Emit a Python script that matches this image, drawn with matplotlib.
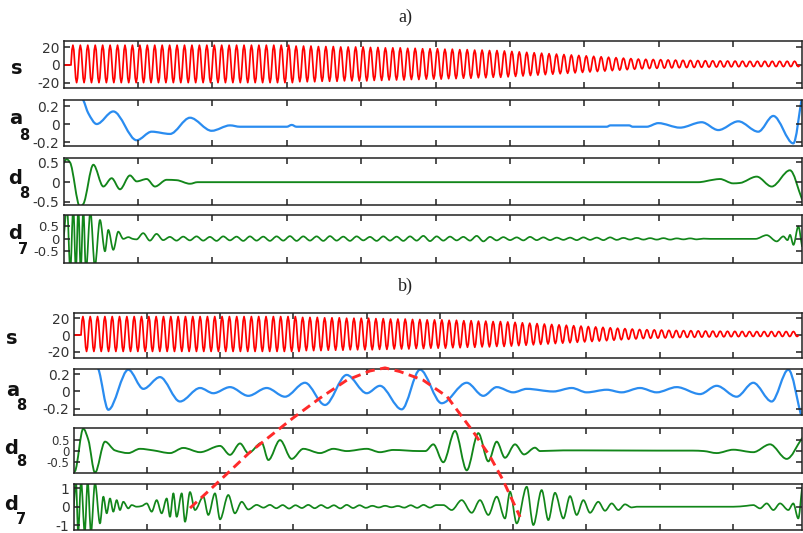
import numpy as np
import matplotlib
matplotlib.use("Agg")
import matplotlib.pyplot as plt
from matplotlib.path import Path
from matplotlib.patches import PathPatch

plt.rcParams["axes.unicode_minus"] = False
plt.rcParams["font.family"] = ["DejaVu Sans"]

# ---------------------------------------------------------------- data
# test signal s: amplitude of each cycle (10 cycles per time unit, starting at t=0.1)
s_amp = [21, 21, 21, 21, 21, 21, 21, 21, 21, 21,
         21, 21, 21, 21, 21, 21, 21, 21, 21, 21,
         21, 21, 21, 21, 21, 21, 21, 21, 21, 21,
         20, 20, 20, 19.5, 19.5, 19.5, 19, 19, 19, 19,
         18.5, 18.5, 18, 18, 18, 17.5, 17.5, 17, 17, 17,
         16.5, 16.5, 16, 16, 15.5, 15.5, 15, 15, 14.5, 14,
         13.5, 13, 12.5, 12, 11.5, 11, 10.5, 10, 9.5, 9,
         8.5, 8, 7.5, 7, 6.5, 6, 5.5, 5.2, 5, 4.8,
         4.5, 4.3, 4.1, 4, 3.8, 3.6, 3.5, 3.4, 3.3, 3.2,
         3.1, 3, 3, 3, 3, 3, 3, 3]
s_offset = 1.2
s_start = 0.1
# sample levels within one cycle of the recorded signal
s_cycle = [0.0, 0.75, 1.0, 0.75, 0.0, -0.75, -1.0, -0.75]

# a) approximation a8
a_a8_t = [0.0, 0.15, 0.265, 0.332, 0.445, 0.668, 0.982, 1.184, 1.43, 1.699,
          1.99, 2.237, 2.37, 3.0, 3.066, 3.13, 7.3, 7.35, 7.6, 7.65,
          7.837, 7.993, 8.285, 8.577, 8.8, 9.069, 9.337, 9.539, 9.808, 9.925]
a_a8_v = [0.6, 0.42, 0.265, 0.12, 0.0, 0.14, -0.18, -0.085, -0.11, 0.07,
          -0.075, -0.015, -0.03, -0.03, -0.01, -0.03, -0.03, -0.015, -0.015, -0.03,
          -0.03, 0.01, -0.04, 0.02, -0.067, 0.03, -0.085, 0.09, -0.215, 0.3]

# a) detail d8
a_d8_t = [0.0, 0.04, 0.086, 0.22, 0.265, 0.4, 0.534, 0.646, 0.758, 0.892,
          0.982, 1.117, 1.228, 1.386, 1.52, 1.699, 1.8, 8.53, 8.73, 8.82,
          9.0, 9.09, 9.316, 9.517, 9.763, 9.925]
a_d8_v = [0.48, 0.58, 0.5, -0.62, -0.55, 0.44, -0.11, 0.10, -0.18, 0.17,
          0.02, 0.08, -0.11, 0.06, 0.05, -0.04, 0.0, 0.0, 0.06, 0.08,
          -0.03, -0.02, 0.14, -0.11, 0.30, -0.43]

# a) detail d7: onset, steady ripple, end
a_d7_head_t = [0.0, 0.046, 0.09, 0.13, 0.165, 0.198, 0.23, 0.265, 0.30, 0.36,
               0.42, 0.489, 0.556, 0.601, 0.668, 0.735, 0.802, 0.87, 0.93]
a_d7_head_v = [0.0, 1.3, -1.3, 1.3, -1.3, 1.3, -1.3, 1.2, -1.3, 1.1,
               -1.1, 0.76, -0.5, 0.36, -0.44, 0.29, 0.0, 0.07, 0.0]
a_d7_ripple_span = (0.98, 8.69)
a_d7_ripple_v = [-0.02, 0.23, -0.07, 0.2, -0.05, 0.08, -0.07, 0.09, -0.06, 0.1,
                 -0.07, 0.08, -0.08, 0.1, -0.06, 0.09, -0.08, 0.1, -0.07, 0.09,
                 -0.08, 0.1, -0.07, 0.11, -0.08, 0.1, -0.07, 0.1, -0.08, 0.11,
                 -0.07, 0.09, -0.08, 0.1, -0.06, 0.08, -0.08, 0.1, -0.07, 0.09,
                 -0.08, 0.1, -0.07, 0.12, -0.09, 0.1, -0.07, 0.09, -0.06, 0.08,
                 -0.07, 0.12, -0.1, 0.08, -0.06, 0.07, -0.05, 0.06, -0.06, 0.08,
                 -0.05, 0.06, -0.05, 0.05, -0.04, 0.05, -0.05, 0.06, -0.04, 0.05,
                 -0.05, 0.06, -0.04, 0.04, -0.03, 0.04, -0.03, 0.03, -0.03, 0.03,
                 -0.03, 0.02, -0.02, 0.02, -0.02, 0.01, 0.0]
a_d7_tail_t = [9.3, 9.45, 9.585, 9.674, 9.73, 9.764, 9.81, 9.875, 9.925]
a_d7_tail_v = [0.0, 0.15, -0.1, 0.1, -0.05, 0.16, -0.24, 0.5, -0.3]

# b) approximation a8
b_a8_t = [0.0, 0.2, 0.335, 0.472, 0.745, 0.95, 1.177, 1.45, 1.724, 1.905,
          2.133, 2.383, 2.634, 2.884, 3.157, 3.43, 3.726, 4.0, 4.18, 4.477,
          4.727, 5.023, 5.365, 5.591, 5.774, 6.0, 6.184, 6.547, 6.798, 7.003,
          7.276, 7.48, 7.73, 7.958, 8.231, 8.55, 8.777, 9.05, 9.277, 9.528,
          9.755, 9.942]
b_a8_v = [0.55, 0.45, 0.26, -0.21, 0.25, 0.03, 0.165, -0.115, 0.04, -0.02,
          0.05, -0.05, 0.04, -0.06, 0.10, -0.155, 0.19, -0.02, 0.065, -0.205,
          0.25, -0.135, 0.10, -0.05, 0.05, -0.01, 0.03, 0.0, 0.04, -0.01,
          0.02, -0.01, 0.04, -0.01, 0.05, -0.03, 0.065, -0.06, 0.10, -0.115,
          0.25, -0.32]

# b) detail d8
b_d8_t = [0.0, 0.017, 0.13, 0.199, 0.29, 0.427, 0.563, 0.745, 0.904, 1.086,
          1.314, 1.496, 1.724, 1.997, 2.133, 2.27, 2.383, 2.566, 2.657, 2.816,
          2.975, 3.134, 3.362, 3.544, 3.726, 4.0, 4.18, 4.362, 4.717, 4.8,
          4.909, 5.045, 5.205, 5.365, 5.523, 5.66, 5.774, 5.887, 6.024, 6.147,
          6.297, 6.365, 6.684, 6.934, 7.958, 8.45, 8.6, 8.777, 9.004, 9.277,
          9.505, 9.733, 9.942]
b_d8_v = [-0.95, -0.9, 1.0, 0.5, -0.97, 0.42, 0.03, -0.09, 0.1, 0.03,
          -0.09, 0.14, -0.05, 0.23, -0.17, 0.34, -0.09, 0.37, -0.4, 0.49,
          -0.35, 0.1, -0.09, 0.1, 0.0, 0.1, -0.05, 0.05, 0.0, 0.0,
          0.3, -0.5, 0.9, -0.86, 0.8, -0.46, 0.42, -0.3, 0.3, -0.15,
          0.15, 0.0, 0.03, 0.03, 0.02, 0.02, 0.0, -0.09, 0.06, -0.05,
          0.3, -0.35, 0.57]

# b) detail d7: onset, early bursts, ripple, main burst, end
b_d7_head_t = [0.0, 0.03, 0.06, 0.1, 0.15, 0.19, 0.235, 0.29, 0.358, 0.404,
               0.45, 0.495, 0.54, 0.586, 0.631, 0.677, 0.745, 0.791, 0.859, 0.928,
               0.996, 1.064, 1.132, 1.2, 1.269, 1.314, 1.36, 1.405, 1.474, 1.519,
               1.587, 1.655, 1.769, 1.837, 1.928, 1.997, 2.11, 2.2, 2.293, 2.383,
               2.497]
b_d7_head_v = [0.0, 1.4, -1.4, 1.4, -1.4, 1.4, -1.4, 1.3, -0.91, 0.55,
               -0.36, 0.45, -0.27, 0.36, -0.18, 0.27, -0.09, 0.09, 0.0, 0.04,
               0.18, -0.27, 0.36, -0.36, 0.45, -0.55, 0.73, -0.55, 0.73, -0.82,
               0.8, -0.18, 0.55, -0.45, 0.73, -0.69, 0.64, -0.36, 0.27, -0.15,
               0.1]
b_d7_ripple_span = (2.59, 4.95)
b_d7_ripple_v = [-0.05, 0.1, -0.08, 0.09, -0.1, 0.08, -0.07, 0.1, -0.08, 0.09,
                 -0.07, 0.08, -0.09, 0.1, -0.07, 0.08, -0.06, 0.05, -0.04, 0.05,
                 -0.03, 0.04, -0.05, 0.08, -0.06, 0.1, -0.05, 0.09]
b_d7_tail_t = [5.045, 5.16, 5.296, 5.433, 5.546, 5.66, 5.774, 5.887, 5.956, 6.047,
               6.184, 6.274, 6.388, 6.479, 6.57, 6.684, 6.775, 6.866, 6.957, 7.048,
               7.161, 7.253, 7.344, 7.435, 7.526, 7.617, 7.685, 8.891, 9.004, 9.187,
               9.277, 9.369, 9.46, 9.551, 9.642, 9.755, 9.823, 9.891, 9.942]
b_d7_tail_v = [0.09, -0.18, 0.36, -0.33, 0.36, -0.45, 0.55, -0.64, 0.82, -0.91,
               1.09, -1.0, 0.91, -0.73, 0.76, -0.64, 0.58, -0.45, 0.36, -0.33,
               0.27, -0.22, 0.18, -0.18, 0.13, -0.04, 0.0, 0.0, 0.0, 0.05,
               0.09, -0.09, 0.18, -0.18, 0.18, -0.18, 0.18, -0.64, 1.0]

# dashed hump drawn across panel b (x in time units, y as fraction of panel height)
hump_t = [1.587, 1.928, 2.406, 2.993, 3.362, 3.730, 4.044, 4.249, 4.454, 4.768,
          5.096, 5.451, 5.683, 5.860, 6.093]
hump_h = [0.101, 0.207, 0.359, 0.516, 0.608, 0.691, 0.733, 0.747, 0.730, 0.691,
          0.615, 0.454, 0.339, 0.230, 0.060]

y_ticks = {
    "s": [-20, 0, 20],
    "a8": [-0.2, 0, 0.2],
    "d8": [-0.5, 0, 0.5],
    "d7a": [-0.5, 0, 0.5],
    "d7b": [-1, 0, 1],
}
y_tick_labels = {
    "s": ["-20", "0", "20"],
    "a8": ["-0.2", "0", "0.2"],
    "d8": ["-0.5", "0", "0.5"],
    "d7a": ["-0.5", "0", "0.5"],
    "d7b": ["-1", "0", "1"],
}

# ---------------------------------------------------------------- helpers
W, H = 804, 533
RED = "#ff0000"
BLUE = "#2a8cf0"
GREEN = "#12861a"


def rect(l, r, t, b):
    return [l / W, 1 - b / H, (r - l) / W, (b - t) / H]


def s_series():
    t = [0.0, s_start]
    v = [0.0, 0.0]
    n = len(s_cycle)
    for k, a in enumerate(s_amp):
        for j, f in enumerate(s_cycle):
            t.append(s_start + (k * n + j) / (10.0 * n))
            v.append(s_offset + a * f)
    return np.array(t), np.array(v)


def ripple(span, vals):
    return list(np.linspace(span[0], span[1], len(vals))), list(vals)


def smooth_line(ax, x, y, color, lw):
    """Draw a smooth curve through the given points as a cubic Bezier path
    (shape-preserving tangents, so extrema stay where the points are)."""
    x = np.asarray(x, float)
    y = np.asarray(y, float)
    h = np.diff(x)
    d = np.diff(y) / h
    m = np.zeros_like(x)
    for i in range(1, len(x) - 1):
        if d[i - 1] * d[i] > 0:
            w1 = 2 * h[i] + h[i - 1]
            w2 = h[i] + 2 * h[i - 1]
            m[i] = (w1 + w2) / (w1 / d[i - 1] + w2 / d[i])
    m[0] = d[0]
    m[-1] = d[-1]
    verts = [(x[0], y[0])]
    codes = [Path.MOVETO]
    for i in range(len(x) - 1):
        verts += [(x[i] + h[i] / 3, y[i] + m[i] * h[i] / 3),
                  (x[i + 1] - h[i] / 3, y[i + 1] - m[i + 1] * h[i] / 3),
                  (x[i + 1], y[i + 1])]
        codes += [Path.CURVE4] * 3
    ax.add_patch(PathPatch(Path(verts, codes), fill=False, edgecolor=color,
                           lw=lw, joinstyle="round", capstyle="round"))


def style(ax, xmax, ylim, key, labelsize=10):
    ax.set_xlim(0, xmax)
    ax.set_ylim(*ylim)
    ax.set_xticks(range(1, 10))
    ax.set_xticklabels([])
    ax.set_yticks(y_ticks[key])
    ax.set_yticklabels(y_tick_labels[key])
    ax.tick_params(direction="in", top=True, right=True, length=4.5, width=1.1,
                   labelsize=labelsize, pad=3, colors="#222222",
                   labelcolor="#333333")
    for sp in ax.spines.values():
        sp.set_linewidth(1.1)
        sp.set_color("#222222")
    ax.set_facecolor("white")


def label(px, py, main, sub=None, spx=None, spy=None):
    fig.text(px / W, 1 - py / H, main, ha="center", va="center",
             fontsize=14, fontweight="bold", color="#111111")
    if sub is not None:
        fig.text(spx / W, 1 - spy / H, sub, ha="center", va="center",
                 fontsize=10.5, fontweight="bold", color="#111111")


# ---------------------------------------------------------------- figure
fig = plt.figure(figsize=(8.04, 5.33), dpi=100)
fig.patch.set_facecolor("white")

st, sv = s_series()

# panel a
XA = (802 - 63.6) / 74.4
ax = fig.add_axes(rect(63.6, 802, 41, 88))
ax.plot(st, sv, color=RED, lw=1.25)
style(ax, XA, (-25.8, 26.9), "s")

ax = fig.add_axes(rect(63.6, 802, 100, 146))
smooth_line(ax, a_a8_t, a_a8_v, BLUE, 1.6)
style(ax, XA, (-0.244, 0.267), "a8")

ax = fig.add_axes(rect(63.6, 802, 158, 205))
smooth_line(ax, a_d8_t, a_d8_v, GREEN, 1.35)
style(ax, XA, (-0.576, 0.61), "d8")

rt, rv = ripple(a_d7_ripple_span, a_d7_ripple_v)
ax = fig.add_axes(rect(63.6, 802, 215, 263))
smooth_line(ax, a_d7_head_t + rt + a_d7_tail_t, a_d7_head_v + rv + a_d7_tail_v,
            GREEN, 1.25)
style(ax, XA, (-0.97, 0.96), "d7a", labelsize=9.5)

# panel b
XB = (802 - 73.75) / 73.25
ax = fig.add_axes(rect(73.75, 802, 313, 358))
ax.plot(st, sv, color=RED, lw=1.25)
style(ax, XB, (-27.7, 26.5), "s")

ax = fig.add_axes(rect(73.75, 802, 369, 415))
smooth_line(ax, b_a8_t, b_a8_v, BLUE, 1.6)
style(ax, XB, (-0.27, 0.258), "a8")

ax = fig.add_axes(rect(73.75, 802, 428, 473))
smooth_line(ax, b_d8_t, b_d8_v, GREEN, 1.35)
style(ax, XB, (-0.98, 1.03), "d8", labelsize=8.5)

rt, rv = ripple(b_d7_ripple_span, b_d7_ripple_v)
ax = fig.add_axes(rect(73.75, 802, 484, 530))
smooth_line(ax, b_d7_head_t + rt + b_d7_tail_t, b_d7_head_v + rv + b_d7_tail_v,
            GREEN, 1.25)
style(ax, XB, (-1.27, 1.24), "d7b")

# dashed hump on top of panel b
ov = fig.add_axes(rect(73.75, 802, 313, 530), zorder=10)
ov.set_xlim(0, XB)
ov.set_ylim(0, 1)
ov.axis("off")
ov.patch.set_alpha(0)
ov.plot(hump_t, hump_h, color="#ff2a2a", lw=2.1, linestyle=(0, (3.2, 1.9)),
        dash_capstyle="butt")

# side labels
label(17, 69, "s")
label(16, 119, "a", "8", 24, 135)
label(15, 178, "d", "8", 24, 193)
label(15, 234, "d", "7", 23, 250)
label(12, 339, "s")
label(12.5, 391, "a", "8", 21, 405)
label(11, 448, "d", "8", 21, 462)
label(11, 504, "d", "7", 21, 520)

# panel titles
fig.text(405 / W, 1 - 17 / H, "a)", ha="center", va="center",
         family=["Liberation Serif", "DejaVu Serif"], fontsize=13, color="#222222")
fig.text(405 / W, 1 - 286 / H, "b)", ha="center", va="center",
         family=["Liberation Serif", "DejaVu Serif"], fontsize=13, color="#222222")

fig.savefig("out.png", dpi=100, facecolor="white")
